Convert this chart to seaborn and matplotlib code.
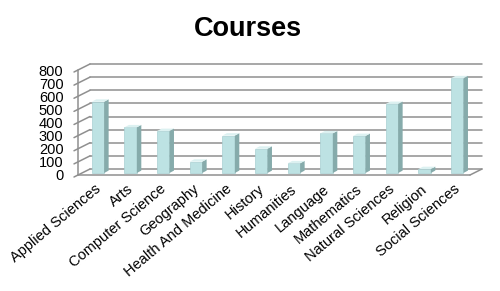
import numpy as np
import matplotlib
matplotlib.use("Agg")
import matplotlib.pyplot as plt
import seaborn as sns
from matplotlib.patches import Polygon

categories = ["Applied Sciences", "Arts", "Computer Science", "Geography",
              "Health And Medicine", "History", "Humanities", "Language",
              "Mathematics", "Natural Sciences", "Religion", "Social Sciences"]
values = [543, 348, 320, 86, 285, 185, 74, 302, 282, 526, 30, 722]
y_ticks = [0, 100, 200, 300, 400, 500, 600, 700, 800]

sns.set_style("white")
plt.rcParams['font.family'] = ['Liberation Sans', 'DejaVu Sans']

W, H = 500, 291
fig = plt.figure(figsize=(W / 100, H / 100), dpi=100)
# front plane box in pixels
L, R, B, T = 78, 470, 175, 70
ax = fig.add_axes([L / W, (H - B) / H, (R - L) / W, (B - T) / H])
ax.set_xlim(-0.5, 11.5)
ax.set_ylim(0, 800)

pxx = 12 / (R - L)          # categories per pixel
pxy = 800 / (B - T)         # value units per pixel
back_dx, back_dy = 12 * pxx, 6 * pxy
front_dx, front_dy = 3.6 * pxx, 2.0 * pxy
depth_dx, depth_dy = 4.5 * pxx, 2.4 * pxy

grid_c = "#8f8f8f"
lw = 1.1

# back wall gridlines and left wall diagonals
for v in y_ticks:
    ax.plot([-0.5 + back_dx, 11.5 + back_dx], [v + back_dy, v + back_dy],
            color=grid_c, lw=lw, clip_on=False, zorder=1)
    ax.plot([-0.5 - 4 * pxx, -0.5 + back_dx], [v - 2 * pxy, v + back_dy],
            color=grid_c, lw=lw, clip_on=False, zorder=1)
# front left vertical and floor lines
ax.plot([-0.5, -0.5], [0, 800], color=grid_c, lw=lw, clip_on=False, zorder=1)
ax.plot([-0.5, 11.5], [0, 0], color=grid_c, lw=lw, clip_on=False, zorder=1)
ax.plot([11.5, 11.5 + back_dx], [0, back_dy], color=grid_c, lw=lw, clip_on=False, zorder=1)

front_c = "#bde2e3"
side_c = "#86abab"
top_c = "#dcf1f1"

sns.barplot(x=categories, y=values, width=0.38, color=front_c, saturation=1,
            ax=ax, zorder=3)

for p in list(ax.patches):
    x0 = p.get_x() + front_dx
    y0 = p.get_y() + front_dy
    w = p.get_width()
    h = p.get_height()
    p.set_x(x0)
    p.set_y(y0)
    p.set_edgecolor("#a9d0d2")
    p.set_linewidth(0.5)
    p.set_clip_on(False)
    side = Polygon([(x0 + w, y0), (x0 + w + depth_dx, y0 + depth_dy),
                    (x0 + w + depth_dx, y0 + h + depth_dy), (x0 + w, y0 + h)],
                   closed=True, facecolor=side_c, edgecolor="none", zorder=3,
                   clip_on=False)
    top = Polygon([(x0, y0 + h), (x0 + w, y0 + h),
                   (x0 + w + depth_dx, y0 + h + depth_dy), (x0 + depth_dx, y0 + h + depth_dy)],
                  closed=True, facecolor=top_c, edgecolor="none", zorder=3,
                  clip_on=False)
    ax.add_patch(side)
    ax.add_patch(top)

for s in ax.spines.values():
    s.set_visible(False)

ax.set_yticks(y_ticks)
ax.set_yticklabels([str(v) for v in y_ticks], fontsize=10.5, color="black")
ax.tick_params(axis='y', length=0, pad=10.5)

ax.set_xticks(range(len(categories)))
ax.set_xticklabels(categories, rotation=40, ha='right', va='top',
                   rotation_mode='anchor', fontsize=10.5, color="black")
ax.tick_params(axis='x', which='major', length=0, pad=5)
ax.set_xticks(np.arange(-0.5, 12, 1), minor=True)
ax.tick_params(axis='x', which='minor', length=3.5, width=1, color=grid_c,
               direction='out')
ax.set_xlabel("")
ax.set_ylabel("")

fig.text(0.496, 0.902, "Courses", ha='center', va='center', fontsize=19.5,
         fontweight='bold', color="black")

fig.savefig("out.png", dpi=100)
